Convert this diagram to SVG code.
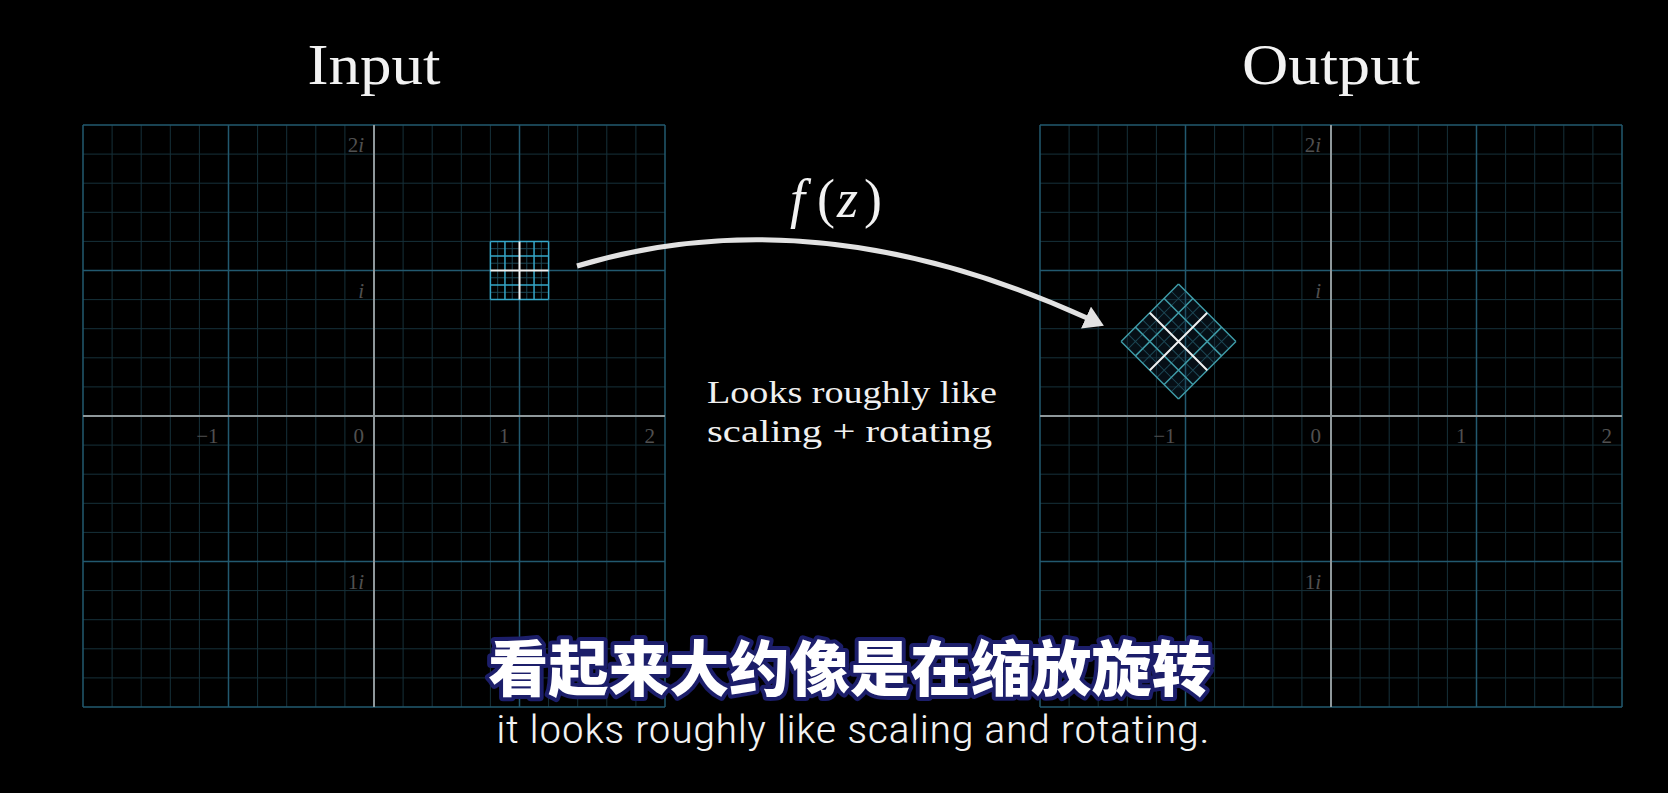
<svg xmlns="http://www.w3.org/2000/svg" xmlns:xlink="http://www.w3.org/1999/xlink" width="1668" height="793" viewBox="0 0 1668 793">
<style>
.minor{stroke:#16313a;stroke-width:1;fill:none}
.major{stroke:#22596f;stroke-width:1.5;fill:none}
.axis{stroke:#8f989b;stroke-width:2;fill:none}
.lbl{font-family:"Liberation Serif",serif;font-size:21px;fill:#505050;text-anchor:end}
.it{font-style:italic}
.title{font-family:"Liberation Serif",serif;font-size:56px;fill:#f2f2f2;text-anchor:middle}
.body{font-family:"Liberation Serif",serif;font-size:32px;fill:#f0f0f0}
.cyan{stroke:#35a6c8;stroke-width:1.5;fill:none}
.teal{stroke:#3e9aa6;stroke-width:1.5;fill:none}
.fine{stroke:#1c4654;stroke-width:1;fill:none}
.white{stroke:#f0f0f0;stroke-width:2;fill:none}
.arrow{stroke:#e2e2e2;stroke-width:5;fill:none}
</style>
<defs>
<marker id="ah" markerUnits="userSpaceOnUse" markerWidth="20" markerHeight="24" viewBox="0 0 18 22" refX="1" refY="11" orient="auto">
<path d="M0,0 L18,11 L0,22 z" fill="#e2e2e2"/>
</marker>
<g id="plane">
<path class="minor" d="M-261.9-291V291M-232.8-291V291M-203.7-291V291M-174.6-291V291M-116.4-291V291M-87.3-291V291M-58.2-291V291M-29.1-291V291M29.1-291V291M58.2-291V291M87.3-291V291M116.4-291V291M174.6-291V291M203.7-291V291M232.8-291V291M261.9-291V291M-291-261.9H291M-291-232.8H291M-291-203.7H291M-291-174.6H291M-291-116.4H291M-291-87.3H291M-291-58.2H291M-291-29.1H291M-291 29.1H291M-291 58.2H291M-291 87.3H291M-291 116.4H291M-291 174.6H291M-291 203.7H291M-291 232.8H291M-291 261.9H291"/>
<path class="major" d="M-291-291V291M-145.5-291V291M145.5-291V291M291-291V291M-291-291H291M-291-145.5H291M-291 145.5H291M-291 291H291"/>
<path class="axis" d="M0-291V291M-291 0H291"/>
<text class="lbl" x="-10" y="-264">2<tspan class="it">i</tspan></text>
<text class="lbl" x="-10" y="-118.5"><tspan class="it">i</tspan></text>
<text class="lbl" x="-10" y="172.5">1<tspan class="it">i</tspan></text>
<text class="lbl" x="-10" y="27">0</text>
<text class="lbl" x="-155.5" y="27">−1</text>
<text class="lbl" x="135.5" y="27">1</text>
<text class="lbl" x="281" y="27">2</text>
</g>
</defs>
<rect width="1668" height="793" fill="#000"/>

<g id="input-plane"><use xlink:href="#plane" x="374" y="416"/></g>
<g id="output-plane"><use xlink:href="#plane" x="1331" y="416"/></g>

<g id="input-title"><text class="title" x="374" y="84" textLength="133" lengthAdjust="spacingAndGlyphs">Input</text></g>
<g id="output-title"><text class="title" x="1331" y="84" textLength="178" lengthAdjust="spacingAndGlyphs">Output</text></g>

<g id="input-square" transform="translate(519.5,270.5)">
<rect x="-29.1" y="-29.1" width="58.2" height="58.2" fill="#000" fill-opacity="0.6"/>
<path class="fine" d="M-21.825-29.1V29.1M-7.275-29.1V29.1M7.275-29.1V29.1M21.825-29.1V29.1M-29.1-21.825H29.1M-29.1-7.275H29.1M-29.1 7.275H29.1M-29.1 21.825H29.1"/>
<path class="cyan" d="M-29.1-29.1V29.1M-14.55-29.1V29.1M14.55-29.1V29.1M29.1-29.1V29.1M-29.1-29.1H29.1M-29.1-14.55H29.1M-29.1 14.55H29.1M-29.1 29.1H29.1"/>
<path class="white" d="M0-29.1V29.1M-29.1 0H29.1"/>
</g>

<g id="output-diamond" transform="translate(1178.5,341.5) rotate(45)">
<rect x="-40.6" y="-40.6" width="81.2" height="81.2" fill="#14324a" fill-opacity="0.3"/>
<path class="fine" d="M-30.45-40.6V40.6M-10.15-40.6V40.6M10.15-40.6V40.6M30.45-40.6V40.6M-40.6-30.45H40.6M-40.6-10.15H40.6M-40.6 10.15H40.6M-40.6 30.45H40.6"/>
<path class="teal" d="M-40.6-40.6V40.6M-20.3-40.6V40.6M20.3-40.6V40.6M40.6-40.6V40.6M-40.6-40.6H40.6M-40.6-20.3H40.6M-40.6 20.3H40.6M-40.6 40.6H40.6"/>
<path class="white" d="M0-40.6V40.6M-40.6 0H40.6"/>
</g>

<g id="connectors">
<path class="arrow" d="M577,266 Q815.5,194.5 1087,318" marker-end="url(#ah)"/>
</g>

<g id="fz-label" font-family="'Liberation Serif',serif" font-size="54" fill="#f2f2f2">
<text x="790" y="217" font-style="italic">f</text>
<text x="817" y="217">(</text>
<text x="837" y="217" font-style="italic">z</text>
<text x="864" y="217">)</text>
</g>

<g id="note">
<text class="body" x="707" y="402.5" textLength="290" lengthAdjust="spacingAndGlyphs">Looks roughly like</text>
<text class="body" x="707" y="441.5" textLength="285" lengthAdjust="spacingAndGlyphs">scaling + rotating</text>
</g>

<g id="subtitle-zh">
<text x="850" y="691" font-family="'Noto Sans CJK SC',sans-serif" font-weight="900" font-size="60" fill="#ffffff" stroke="#1c1e6a" stroke-width="8" stroke-linejoin="round" paint-order="stroke" text-anchor="middle" textLength="724" lengthAdjust="spacingAndGlyphs">看起来大约像是在缩放旋转</text>
</g>
<g id="subtitle-en">
<text x="853" y="743" font-family="'Liberation Sans Narrow','Roboto Condensed','Roboto',sans-serif" font-size="39" font-weight="300" fill="#f2f2f2" text-anchor="middle" textLength="714" lengthAdjust="spacingAndGlyphs">it looks roughly like scaling and rotating.</text>
</g>
</svg>
